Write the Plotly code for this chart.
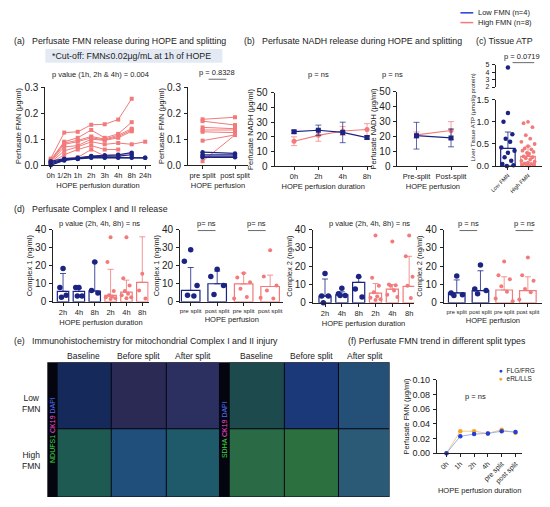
import plotly.graph_objects as go

W, H = 550, 507
NAVY = '#1b2483'
SALMON = '#f27a7a'
FONT = 'Liberation Sans, Arial, sans-serif'

# (a) perfusate FMN over HOPE time, one row per patient
fmn_times = ['0h', '1/2h', '1h', '2h', '3h', '4h', '8h', '24h']
fmn_high = [
    [0.025, 0.125, 0.128, 0.155, 0.157, 0.175, 0.255, None],
    [0.020, 0.090, 0.105, 0.135, 0.105, 0.120, 0.165, None],
    [0.018, 0.085, 0.095, 0.110, 0.100, 0.115, 0.140, None],
    [0.015, 0.080, 0.090, 0.105, 0.097, 0.110, 0.135, None],
    [0.012, 0.070, 0.075, 0.100, 0.095, 0.105, 0.130, None],
    [0.010, 0.055, 0.070, 0.090, 0.080, 0.085, 0.080, 0.090],
    [0.008, 0.040, 0.060, 0.075, 0.060, 0.060, None, None],
    [0.005, 0.025, 0.030, 0.060, 0.035, 0.040, 0.045, None],
]
fmn_low = [
    [0.015, 0.025, 0.028, 0.035, 0.038, 0.040, 0.048, None],
    [0.010, 0.022, 0.026, 0.033, 0.035, 0.035, 0.040, None],
    [0.005, 0.020, 0.025, 0.030, 0.030, 0.030, 0.030, 0.028],
    [0.000, 0.018, 0.024, 0.028, 0.028, 0.028, 0.028, 0.028],
]
split_labels = ['pre split', 'post split']
split_high = [[0.176, 0.184], [0.169, 0.154], [0.145, 0.140], [0.135, 0.135],
              [0.128, 0.125], [0.094, 0.116], [0.015, 0.116]]
split_low = [[0.050, 0.045], [0.040, 0.040], [0.035, 0.035], [0.030, 0.030]]

# (b) NADH
nadh_times = ['0h', '2h', '4h', '8h']
nadh_low_mean = [23.5, 24.5, 23.0, 19.5]
nadh_low_sd = [1.0, 3.5, 7.0, 1.0]
nadh_high_mean = [17.0, 21.0, 24.0, 25.0]
nadh_high_sd = [3.0, 4.0, 3.0, 4.0]
nadh_split = ['Pre-split', 'Post-split']
nadh_split_low_mean = [20.5, 19.0]
nadh_split_low_sd = [9.0, 6.0]
nadh_split_high_mean = [21.0, 24.0]
nadh_split_high_sd = [2.0, 6.0]

# (c) tissue ATP
atp_groups = ['Low FMN', 'High FMN']
atp_low = [4.6, 1.2, 1.0, 0.72, 0.62, 0.55, 0.42, 0.35, 0.30, 0.20, 0.12, 0.05, 0.02, 0.0]
atp_high = [1.0, 0.97, 0.88, 0.70, 0.62, 0.55, 0.50, 0.45, 0.40, 0.38, 0.35, 0.32, 0.30, 0.28,
            0.25, 0.22, 0.20, 0.18, 0.15, 0.12, 0.10, 0.08, 0.06, 0.05, 0.04, 0.03, 0.02, 0.01]
atp_mean = [0.40, 0.22]
atp_sd_top = [0.77, 0.45]

# (d) complex I / II
c_time_labels = ['2h', '4h', '8h', '2h', '4h', '8h']
c_split_labels = ['pre split', 'post split', 'pre split', 'post split']
c1_time_pts = [[18.4, 8, 3.6, 2.5], [8, 8, 3.2, 3.2], [22, 6.3, 4.9],
               [35.7, 22, 6, 3.6, 3, 2.5, 2, 1.5], [35.7, 13, 9, 6, 4.5, 3.6, 2.5, 2], [15.5, 6.3, 1.8]]
c1_time_mean = [5.8, 5.8, 6.0, 3.6, 5.4, 10.8]
c1_time_sd = [15.7, 7.5, 22.0, 18.0, 12.0, 36.0]
c1_split_pts = [[28.8, 22.5, 9, 3.6, 3.2], [18, 14, 9, 4], [15.8, 13.5, 10.8, 7.2, 2.7, 1.8],
                [28.5, 14, 9, 6.3, 1.8, 2.2]]
c1_split_mean = [6.3, 10.0, 9.9, 8.5]
c1_split_sd = [19.0, 17.0, 16.0, 14.8]
c2_time_pts = [[16, 3.7, 3.7, 0], [8, 5, 4, 4], [14.4, 7.6, 3.2],
               [36.8, 13.7, 9.3, 5.8, 3.5, 2.8, 2, 1.5], [33.5, 10, 9.6, 9.3, 6.7, 4.4, 3.2],
               [36.8, 25.4, 14.2, 9.3, 2.6]]
c2_time_mean = [3.7, 4.4, 11.2, 5.3, 7.5, 9.0]
c2_time_sd = [13.0, 6.0, 14.0, 10.5, 10.0, 25.4]
c2_split_pts = [[14.6, 5.4, 4.4, 4], [20.7, 7.5, 6.7, 5], [22.5, 15, 12.8, 9, 6, 2.3, 0.9],
                [24.7, 15, 12, 7.5, 5.8, 1.8]]
c2_split_mean = [5.4, 6.7, 7.0, 6.7]
c2_split_sd = [12.5, 17.5, 14.2, 14.2]

# (f) FMN trend by split type
f_labels = ['0h', '1h', '2h', '4h', 'pre split', 'post split']
f_flg = [0.0, 0.023, 0.026, 0.027, 0.030, 0.029]
f_erl = [0.0, 0.030, 0.030, 0.027, 0.032, 0.028]

JIT = [0, -0.2, 0.2, -0.1, 0.1, -0.3, 0.3, 0.0, -0.15, 0.15, -0.25, 0.25, -0.05, 0.05]


def px(x):
    return x / W


def py(y):
    return 1 - y / H


fig = go.Figure()
layout = dict(width=W, height=H, margin=dict(l=0, r=0, t=0, b=0), showlegend=False,
              paper_bgcolor='white', plot_bgcolor='white',
              font=dict(family=FONT, size=8, color='#222'), annotations=[], shapes=[])


def add_axes(n, xs, ys, xr, yr, ticks=None, xtitle=None, ytitle=None, dtick=None, fmt=None,
             xangle=0, xfont=7.5, yfont=10, xvisible=True):
    k = '' if n == 1 else str(n)
    axl = dict(showline=True, linecolor='#222', linewidth=1, ticks='outside', ticklen=3,
               tickcolor='#222', showgrid=False, zeroline=False)
    xa = dict(axl, domain=[px(xs[0]), px(xs[1])], range=xr, anchor='y' + k,
              tickfont=dict(size=xfont), tickangle=xangle, visible=xvisible)
    if ticks:
        xa.update(tickmode='array', tickvals=list(range(len(ticks))), ticktext=ticks)
    if xtitle:
        xa['title'] = dict(text=xtitle, font=dict(size=7.5), standoff=3)
    ya = dict(axl, domain=[py(ys[1]), py(ys[0])], range=yr, anchor='x' + k,
              tickfont=dict(size=yfont), dtick=dtick, tickformat=fmt, ticklabelstandoff=1)
    if ytitle:
        ya['title'] = dict(text=ytitle, font=dict(size=7.5), standoff=1)
    layout['xaxis' + k] = xa
    layout['yaxis' + k] = ya
    return 'x' + k, 'y' + k


def note(x, y, text, size=7, xanchor='center', angle=0, color='#222'):
    layout['annotations'].append(dict(x=px(x), y=py(y), xref='paper', yref='paper', text=text,
                                      showarrow=False, xanchor=xanchor, yanchor='middle',
                                      textangle=angle, font=dict(size=size, color=color)))


def hline(x0, x1, y, color='#444', w=0.8):
    layout['shapes'].append(dict(type='line', xref='paper', yref='paper', x0=px(x0), x1=px(x1),
                                 y0=py(y), y1=py(y), line=dict(color=color, width=w)))


def bars_dots(xa, ya, pts, means, sds, colors, bw=0.72, msize=5.5, scale=1.0):
    for i, (vals, m, s, c) in enumerate(zip(pts, means, sds, colors)):
        fig.add_trace(go.Bar(x=[i], y=[m], width=bw, xaxis=xa, yaxis=ya,
                             marker=dict(color='rgba(255,255,255,0)', line=dict(color=c, width=1.2)),
                             error_y=dict(type='data', symmetric=False, array=[s - m], arrayminus=[0],
                                          color=c, thickness=0.8, width=3)))
        xs = [i + JIT[j % len(JIT)] * scale for j in range(len(vals))]
        fig.add_trace(go.Scatter(x=xs, y=vals, mode='markers', xaxis=xa, yaxis=ya, cliponaxis=False,
                                 marker=dict(color=c, size=msize if c == NAVY else msize - 1.5)))


# ---------- (a) ----------
xa, ya = add_axes(1, (40, 147), (83, 163), [-0.4, 7.4], [0, 0.3], ticks=fmn_times,
                  xtitle='HOPE perfusion duration', ytitle='Perfusate FMN (μg/ml)', dtick=0.1, fmt='.1f')
for row in fmn_high:
    fig.add_trace(go.Scatter(x=list(range(len(row))), y=row, mode='lines+markers', xaxis=xa, yaxis=ya,
                             line=dict(color=SALMON, width=1), cliponaxis=False,
                             marker=dict(symbol='square', size=4, color=SALMON)))
for row in fmn_low:
    fig.add_trace(go.Scatter(x=list(range(len(row))), y=row, mode='lines+markers', xaxis=xa, yaxis=ya,
                             line=dict(color=NAVY, width=1.2), cliponaxis=False,
                             marker=dict(size=4.5, color=NAVY)))

xa, ya = add_axes(2, (185, 246), (83, 163), [-0.45, 1.4], [0, 0.3], ticks=split_labels,
                  xtitle='HOPE perfusion', ytitle='Perfusate FMN (μg/ml)', dtick=0.1, fmt='.1f')
for row in split_high:
    fig.add_trace(go.Scatter(x=[0, 1], y=row, mode='lines+markers', xaxis=xa, yaxis=ya,
                             line=dict(color=SALMON, width=1), cliponaxis=False,
                             marker=dict(symbol='square', size=4, color=SALMON)))
for row in split_low:
    fig.add_trace(go.Scatter(x=[0, 1], y=row, mode='lines+markers', xaxis=xa, yaxis=ya,
                             line=dict(color=NAVY, width=1.2), cliponaxis=False,
                             marker=dict(size=4.5, color=NAVY)))

# ---------- (b) ----------
xa, ya = add_axes(3, (273, 372), (89, 164), [-0.8, 3.2], [0, 50], ticks=nadh_times,
                  xtitle='HOPE perfusion duration', ytitle='Perfusate NADH (μg/ml)', dtick=10)
for mean, sd, c, sym in [(nadh_high_mean, nadh_high_sd, SALMON, 'circle'),
                         (nadh_low_mean, nadh_low_sd, NAVY, 'square')]:
    fig.add_trace(go.Scatter(x=list(range(len(mean))), y=mean, mode='lines+markers', xaxis=xa, yaxis=ya,
                             line=dict(color=c, width=1.2), marker=dict(symbol=sym, size=5, color=c),
                             error_y=dict(type='data', array=sd, color=c, thickness=0.7, width=3)))

xa, ya = add_axes(4, (398, 470), (88, 164), [-0.55, 1.5], [0, 50], ticks=nadh_split,
                  xtitle='HOPE perfusion', ytitle='Perfusate NADH (μg/ml)', dtick=10)
for mean, sd, c, sym in [(nadh_split_high_mean, nadh_split_high_sd, SALMON, 'circle'),
                         (nadh_split_low_mean, nadh_split_low_sd, NAVY, 'square')]:
    fig.add_trace(go.Scatter(x=[0, 1], y=mean, mode='lines+markers', xaxis=xa, yaxis=ya,
                             line=dict(color=c, width=1.2), marker=dict(symbol=sym, size=5, color=c),
                             error_y=dict(type='data', array=sd, color=c, thickness=0.7, width=3)))

# ---------- (c) broken axis ----------
xa, ya = add_axes(5, (498, 545), (96, 164), [-0.6, 1.7], [0, 1.5], ticks=atp_groups,
                  dtick=0.5, fmt='.1f', xangle=-45, xfont=5.5, yfont=9)
xa2, ya2 = add_axes(6, (498, 545), (60, 83), [-0.6, 1.7], [2, 5], dtick=1, yfont=7, xvisible=False)
for i, (vals, c) in enumerate([(atp_low, NAVY), (atp_high, SALMON)]):
    fig.add_trace(go.Bar(x=[i], y=[atp_mean[i]], width=0.72, xaxis=xa, yaxis=ya,
                         marker=dict(color='rgba(255,255,255,0)', line=dict(color=c, width=1.2)),
                         error_y=dict(type='data', symmetric=False, array=[atp_sd_top[i] - atp_mean[i]],
                                      arrayminus=[0], color=c, thickness=0.8, width=3)))
    lo = [v for v in vals if v <= 1.5]
    hi = [v for v in vals if v > 1.5]
    fig.add_trace(go.Scatter(x=[i + JIT[j % len(JIT)] * 1.1 for j in range(len(lo))], y=lo,
                             mode='markers', xaxis=xa, yaxis=ya, cliponaxis=False,
                             marker=dict(color=c, size=4.5 if c == NAVY else 3.8)))
    if hi:
        fig.add_trace(go.Scatter(x=[i] * len(hi), y=hi, mode='markers', xaxis=xa2, yaxis=ya2,
                                 cliponaxis=False, marker=dict(color=c, size=4.5)))
note(475, 114, 'Liver Tissue ATP (μmol/g protein)', size=6, angle=-90)
note(525, 52, 'p = 0.0719', size=7.5)
hline(515, 537, 58)

# ---------- (d) ----------
time_cols = [NAVY] * 3 + [SALMON] * 3
split_cols = [NAVY, NAVY, SALMON, SALMON]
xa, ya = add_axes(7, (48, 145), (229, 303), [-0.62, 5.4], [0, 40], ticks=c_time_labels,
                  xtitle='HOPE perfusion duration', ytitle='Complex 1 (ng/ml)', dtick=10)
bars_dots(xa, ya, c1_time_pts, c1_time_mean, c1_time_sd, time_cols)
xa, ya = add_axes(8, (177, 282), (229, 303), [-0.4, 3.5], [0, 40], ticks=c_split_labels,
                  xtitle='HOPE perfusion', ytitle='Complex 1 (ng/ml)', dtick=10, xfont=6.2)
bars_dots(xa, ya, c1_split_pts, c1_split_mean, c1_split_sd, split_cols, bw=0.7, scale=1.2)
xa, ya = add_axes(9, (312, 415), (229, 304), [-0.72, 5.3], [0, 40], ticks=c_time_labels,
                  xtitle='HOPE perfusion duration', ytitle='Complex 2 (ng/ml)', dtick=10)
bars_dots(xa, ya, c2_time_pts, c2_time_mean, c2_time_sd, time_cols)
xa, ya = add_axes(10, (445, 545), (229, 304), [-0.55, 3.6], [0, 40], ticks=c_split_labels,
                  xtitle='HOPE perfusion', ytitle='Complex 2 (ng/ml)', dtick=10, xfont=5.8)
bars_dots(xa, ya, c2_split_pts, c2_split_mean, c2_split_sd, split_cols, bw=0.7, scale=1.2)

# ---------- (f) ----------
xa, ya = add_axes(11, (438, 525), (383, 458), [-0.7, 5.5], [0, 0.1], ticks=f_labels,
                  xtitle='HOPE perfusion duration', ytitle='Perfusate FMN (μg/ml)', dtick=0.02,
                  fmt='.2f', xangle=-45, xfont=7, yfont=9)
fig.add_trace(go.Scatter(x=list(range(len(f_erl))), y=f_erl, mode='lines+markers', xaxis=xa, yaxis=ya,
                         line=dict(color='#f8c98a', width=1), marker=dict(color='#f5a623', size=4.5),
                         cliponaxis=False))
fig.add_trace(go.Scatter(x=list(range(len(f_flg))), y=f_flg, mode='lines+markers', xaxis=xa, yaxis=ya,
                         line=dict(color='#9fb0ee', width=1), marker=dict(color='#1f3fd6', size=4.5),
                         cliponaxis=False))
note(499, 373, '<span style="color:#1f3fd6">●</span>  FLG/FRG', size=6.5, xanchor='left')
note(499, 382, '<span style="color:#f5a623">●</span>  eRL/LLS', size=6.5, xanchor='left')
note(477, 400, 'p = ns', size=7.5)

# ---------- (e) tile grid (stain placeholders) ----------
tile_cols = [(52, 107), (107, 163), (163, 217), (227, 283), (283, 338), (338, 390)]
tile_rows = [(365, 433), (433, 503)]
tile_fill = [['#15295a', '#2a2a55', '#2c3060', '#1d4a4c', '#1b3878', '#245077'],
             ['#1e5a52', '#1f4f7a', '#1f5a6a', '#2a6a45', '#2d7040', '#2a5a75']]
layout['shapes'].append(dict(type='rect', xref='paper', yref='paper', x0=px(42), x1=px(390),
                             y0=py(503), y1=py(365), fillcolor='#050510', line=dict(width=0), layer='below'))
for r, (y0, y1) in enumerate(tile_rows):
    for c, (x0, x1) in enumerate(tile_cols):
        layout['shapes'].append(dict(type='rect', xref='paper', yref='paper', x0=px(x0 + 0.5),
                                     x1=px(x1 - 0.5), y0=py(y1 - 0.5), y1=py(y0 + 0.5),
                                     fillcolor=tile_fill[r][c], line=dict(width=0), layer='below'))
stain1 = ('<span style="color:#3ddc3d">NDUFS1</span> <span style="color:#ff4fd8">CK19</span> '
          '<span style="color:#5070ff">DAPI</span>')
stain2 = ('<span style="color:#3ddc3d">SDHA</span> <span style="color:#ff4fd8">CK19</span> '
          '<span style="color:#5070ff">DAPI</span>')
note(47, 434, stain1, size=7, angle=-90)
note(222, 434, stain2, size=7, angle=-90)
for x, t in zip([79, 135, 190, 255, 311, 365],
                ['Baseline', 'Before split', 'After split', 'Baseline', 'Before split', 'After split']):
    note(x, 358, t, size=8.5)
note(25, 407, 'Low<br>FMN', size=8.5)
note(25, 466, 'High<br>FMN', size=8.5)

# ---------- titles, p-values, legend ----------
TS = 8.8
note(6, 36, '(a)   Perfusate FMN release during HOPE and splitting', size=TS, xanchor='left')
layout['shapes'].append(dict(type='rect', xref='paper', yref='paper', x0=px(40), x1=px(220),
                             y0=py(58), y1=py(44), fillcolor='#e4eaf4', line=dict(width=0), layer='below'))
note(45, 51, '*Cut-off: FMN≤0.02μg/mL at 1h of HOPE', size=8.8, xanchor='left')
note(96, 70, 'p value (1h, 2h & 4h) = 0.004', size=7.5)
note(215, 68, 'p = 0.8328', size=7.5)
hline(206, 224, 75)
note(240, 36, '(b)   Perfusate NADH release during HOPE and splitting', size=TS, xanchor='left')
note(318, 70, 'p = ns', size=7.5)
note(393, 70, 'p = ns', size=7.5)
note(476, 36, '(c) Tissue ATP', size=TS, xanchor='left')
layout['shapes'].append(dict(type='line', xref='paper', yref='paper', x0=px(462), x1=px(475),
                             y0=py(7), y1=py(7), line=dict(color='#1f3fd6', width=1.5)))
layout['shapes'].append(dict(type='line', xref='paper', yref='paper', x0=px(462), x1=px(475),
                             y0=py(17), y1=py(17), line=dict(color=SALMON, width=1.5)))
note(478, 7, 'Low FMN (n=4)', size=7.5, xanchor='left')
note(478, 17, 'High FMN (n=8)', size=7.5, xanchor='left')

note(6, 208, '(d)   Perfusate Complex I and II release', size=TS, xanchor='left')
note(95, 223, 'p value (2h, 4h, 8h) = ns', size=7.5)
note(204, 223, 'p= ns', size=7.5)
hline(195, 213, 230)
note(255, 223, 'p= ns', size=7.5)
hline(246, 264, 230)
note(370, 223, 'p value (2h, 4h, 8h) = ns', size=7.5)
note(470, 223, 'p = ns', size=7.5)
hline(461, 479, 230)
note(527, 223, 'p = ns', size=7.5)
hline(518, 536, 230)

note(6, 343, '(e)   Immunohistochemistry for mitochondrial Complex I and II injury', size=TS, xanchor='left')
note(346, 343, '(f) Perfusate FMN trend in different split types', size=TS, xanchor='left')

fig.update_layout(**layout)
fig.write_html('out.html', config={'displayModeBar': False},
               post_script="document.body.style.margin='0';")
